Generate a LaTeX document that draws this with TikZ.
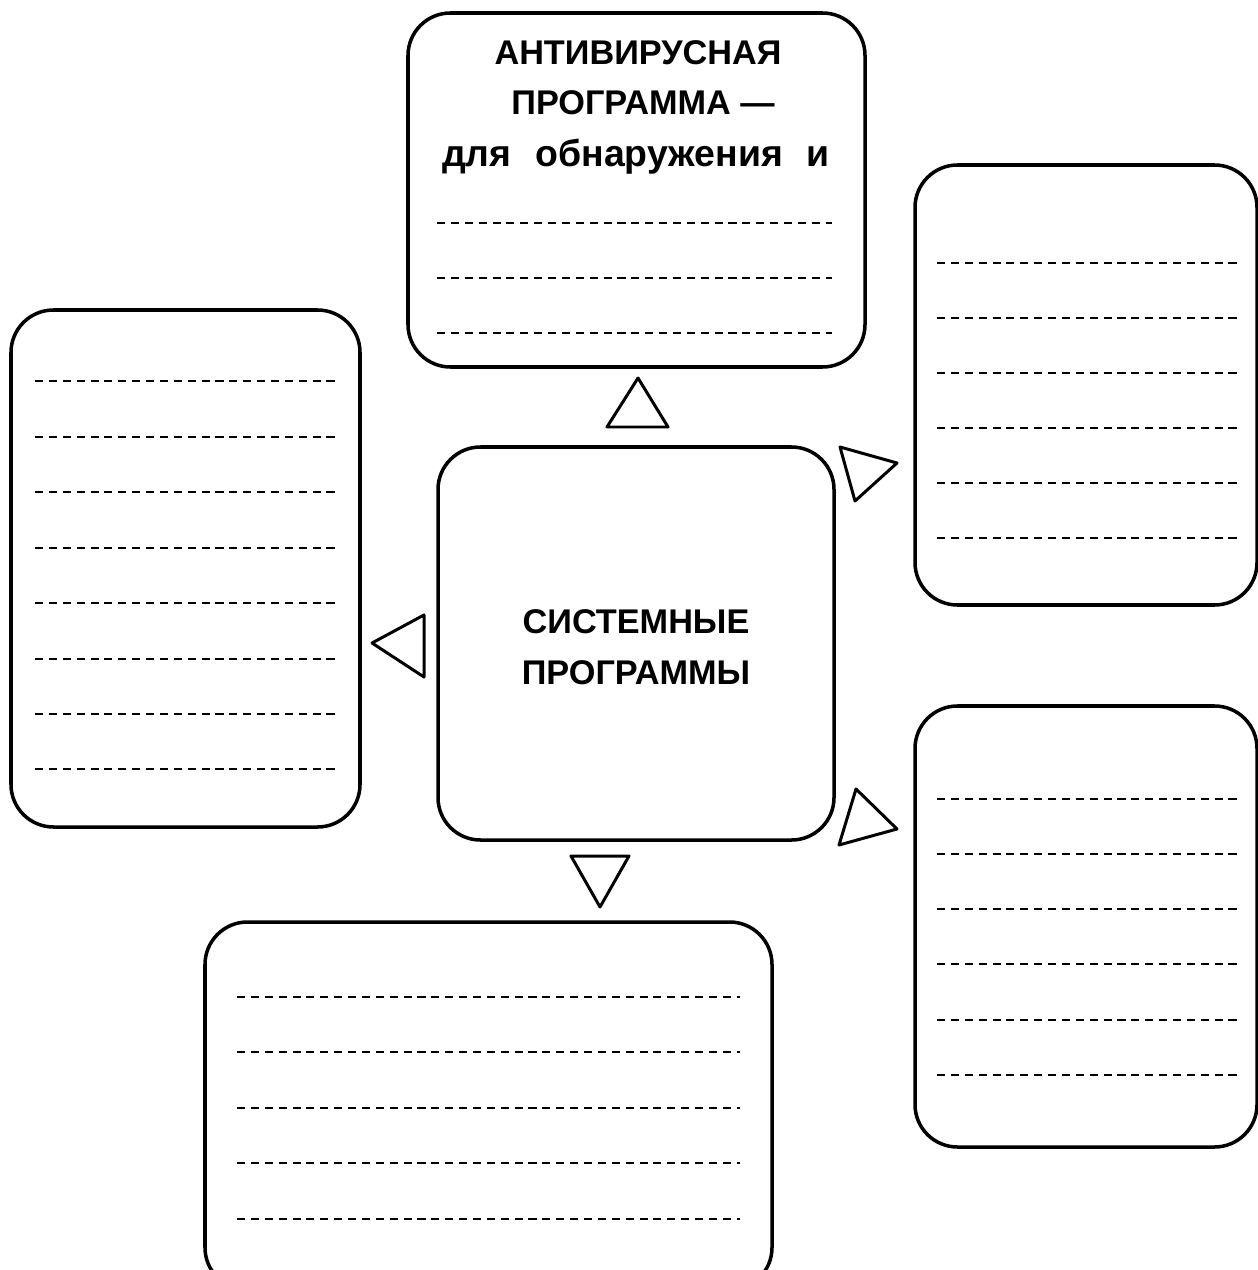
\documentclass[tikz,border=0pt]{standalone}
\usepackage{fontspec}
\setmainfont{Liberation Sans}
\begin{document}
\begin{tikzpicture}[x=0.02cm, y=-0.02cm, line join=round,
    panel/.style={line width=2pt, rounded corners=0.85cm},
    pointer/.style={line width=1.7pt},
    dashline/.style={line width=1.6pt, dash pattern=on 4.6pt off 3.3pt},
    title/.style={font=\fontsize{19.5}{23}\selectfont\bfseries, anchor=base, inner sep=0pt}]

    % рамка рисунка
    \useasboundingbox (0,0) rectangle (1257,1270);

    % блоки
    \draw[panel] (408,13) rectangle (865,367);
    \draw[panel] (438,447) rectangle (834,840);
    \draw[panel] (11,310) rectangle (360,827);
    \draw[panel] (915,165) rectangle (1257,605);
    \draw[panel] (915,706) rectangle (1257,1147);
    \draw[panel] (205,922) rectangle (772,1290);

    % надписи
    \node[title] (anti1) at (638,65) {АНТИВИРУСНАЯ};
    \node[title] (anti2) at (643,115) {ПРОГРАММА —};
    \node[title, font=\fontsize{21.3}{25}\selectfont\bfseries] (anti3) at (636,167)
      {\makebox[7.76cm][s]{для обнаружения и}};
    \node[title] (sys1) at (636,633) {СИСТЕМНЫЕ};
    \node[title] (sys2) at (636,684) {ПРОГРАММЫ};

    % строки для ответа
    \foreach \y in {223,278,333}
      \draw[dashline] (437,\y) -- (832,\y);
    \foreach \y in {381,437,492,548,603,659,714,769}
      \draw[dashline] (35,\y) -- (337,\y);
    \foreach \y in {263,318,373,428,483,538}
      \draw[dashline] (937,\y) -- (1237,\y);
    \foreach \y in {799,854,909,964,1020,1075}
      \draw[dashline] (937,\y) -- (1237,\y);
    \foreach \y in {997,1052,1108,1163,1219}
      \draw[dashline] (237,\y) -- (740,\y);

    % треугольники-указатели
    \draw[pointer] (638,378) -- (668,427) -- (607,427) -- cycle;
    \draw[pointer] (372,643) -- (424,615) -- (424,677) -- cycle;
    \draw[pointer] (571,856) -- (629,856) -- (600,907) -- cycle;
    \draw[pointer] (840,447) -- (897,463) -- (855,501) -- cycle;
    \draw[pointer] (856,789) -- (897,829) -- (839,845) -- cycle;

  \end{tikzpicture}
\end{document}
